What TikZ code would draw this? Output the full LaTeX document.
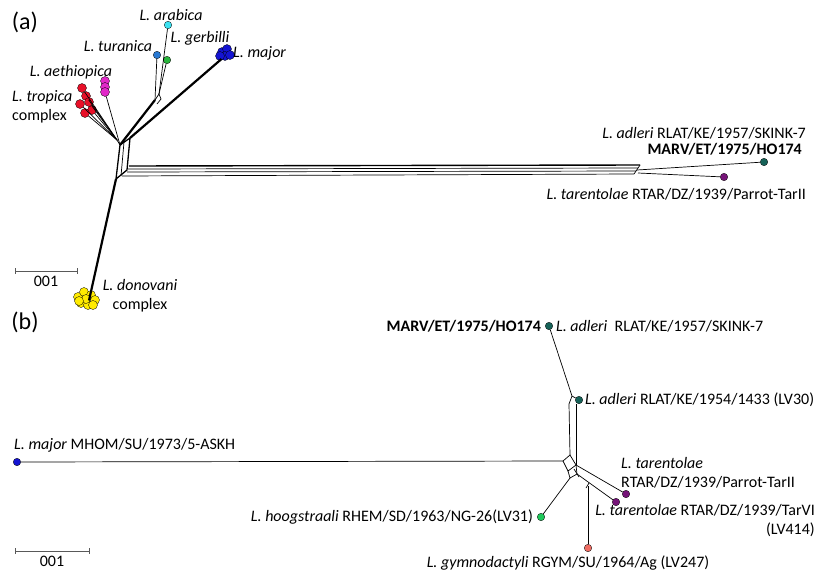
\documentclass[tikz,border=0pt]{standalone}
\usepackage{fontspec}
\setmainfont{Carlito}
\usetikzlibrary{positioning}
\definecolor{adlteal}{RGB}{22,98,88}
\definecolor{tarpurple}{RGB}{118,20,120}
\definecolor{majblue}{RGB}{20,20,210}
\definecolor{tropred}{RGB}{232,16,40}
\definecolor{aetmag}{RGB}{225,40,200}
\definecolor{aracyan}{RGB}{60,225,240}
\definecolor{turblue}{RGB}{40,120,210}
\definecolor{gergreen}{RGB}{40,180,60}
\definecolor{donyellow}{RGB}{255,235,0}
\definecolor{hoogreen}{RGB}{30,200,90}
\definecolor{gymsalmon}{RGB}{240,110,100}
\newcommand{\labfont}{\fontsize{16}{19}\selectfont}
\tikzset{
	tip/.style={circle, draw=black, line width=0.3pt, inner sep=0pt, minimum size=7.5pt},
	bigtip/.style={tip, minimum size=9pt},
	stem/.style={line width=2.2pt},
	edge/.style={line width=0.7pt},
	lab/.style={inner sep=1pt, font=\labfont},
	spec/.style={lab, font=\labfont\itshape},
	strain/.style={lab, font=\labfont\bfseries},
	panel/.style={inner sep=0pt, font=\fontsize{24}{26}\selectfont},
	scalebar/.style={line width=0.6pt, |-|}
}

\begin{document}
\begin{tikzpicture}[x=1pt, y=-1pt]
	\useasboundingbox (0,0) rectangle (814,573);
	
	% ---------------- panel (a) ----------------
	\node[panel] (pa) at (25,22) {(a)};
	
	% central reticulation
	\coordinate (ca) at (120,145);
	\coordinate (cb) at (130,138);
	\coordinate (cc) at (127,170);
	\coordinate (cd) at (116,179);
	\draw[stem, line width=1.3pt] (ca) -- (cb) -- (cc) -- (cd) -- cycle;
	\draw[edge] (124,142) -- (121,176);
	
	% tips
	\foreach \x/\y [count=\i] in {82/88, 86/96, 80/104, 92/110, 85/113, 89/102}
		\node[bigtip, fill=tropred] (trop\i) at (\x,\y) {};
	\foreach \y [count=\i] in {81, 87, 92}
		\node[bigtip, fill=aetmag] (aet\i) at (105,\y) {};
	\node[tip, fill=aracyan] (ara) at (168,25) {};
	\node[tip, fill=turblue] (tur) at (157,55) {};
	\node[tip, fill=gergreen] (ger) at (167,60) {};
	\foreach \x/\y [count=\i] in {222/52, 227/49, 225/56, 230/55, 220/56}
		\node[bigtip, fill=majblue] (maj\i) at (\x,\y) {};
	\foreach \x/\y [count=\i] in {78/297, 84/292, 91/295, 95/300, 81/303, 88/305, 93/305, 86/299, 79/301}
		\node[bigtip, fill=donyellow] (don\i) at (\x,\y) {};
	\node[tip, fill=adlteal] (adla) at (764,162) {};
	\node[tip, fill=tarpurple] (tara) at (724,177) {};
	
	% branches
	\coordinate (ce) at (117,140);
	\foreach \i in {1,...,6}
		\draw[edge] (trop\i) -- (ce);
	\draw[edge] (ce) -- (ca);
	\draw[edge] (aet3) -- (ca);
	\coordinate (tj) at (155,100);
	\coordinate (tk) at (159,94);
	\draw[stem] (ca) -- (tj);
	\draw[edge] (tj) -- (tk) -- (161,99) -- (157,104);
	\draw[edge] (tj) -- (tur);
	\draw[edge] (tk) -- (ara);
	\draw[edge] (tk) -- (ger);
	\draw[stem] (cb) -- (maj3);
	\draw[stem] (cd) -- (don6);
	
	% long split to adleri and tarentolae
	\coordinate (hs) at (637,170);
	\draw[stem, line width=1.4pt] (129,166) -- (640,165);
	\draw[edge] (128,169) -- (638,168);
	\draw[edge] (127,172) -- (636,171);
	\draw[edge] (122,176) -- (634,174);
	\draw[edge] (634,174) -- (640,165);
	\draw[edge] (hs) -- (adla);
	\draw[edge] (638,173) -- (tara);
	
	% labels
	\node[spec] (lara) at (171,15) {L. arabica};
	\node[spec] (lger) at (200,38) {L. gerbilli};
	\node[spec] (ltur) at (118,46) {L. turanica};
	\node[spec, anchor=west] (lmaj) at (232,53) {L. major};
	\node[spec] (laet) at (71,72) {L. aethiopica};
	\node[lab, align=left, anchor=west] (ltrop) at (11,107) {\textit{L. tropica}\\complex};
	\node[lab, align=center] (ldon) at (140,296) {\textit{L. donovani}\\complex};
	\node[lab, anchor=east] (ladla) at (807,133) {\textit{L. adleri} RLAT/KE/1957/SKINK-7};
	\node[strain, anchor=east] (lmarva) at (803,149) {MARV/ET/1975/HO174};
	\node[lab, anchor=east] (ltara) at (807,194) {\textit{L. tarentolae} RTAR/DZ/1939/Parrot-TarII};
	
	% scale bar
	\coordinate (sa1) at (15,271);
	\coordinate (sa2) at (78,271);
	\draw[scalebar, gray!70!black] (sa1) -- (sa2);
	\node[lab] (sca) at (46,281) {001};
	
	% ---------------- panel (b) ----------------
	\node[panel] (pb) at (25,322) {(b)};
	
	\node[tip, fill=adlteal] (adl1) at (549,326) {};
	\node[tip, fill=adlteal] (adl2) at (579,400) {};
	\node[tip, fill=majblue] (majb) at (17,462) {};
	\node[tip, fill=hoogreen] (hoo) at (541,517) {};
	\node[tip, fill=gymsalmon] (gym) at (588,548) {};
	\node[tip, fill=tarpurple] (tar1) at (626,494) {};
	\node[tip, fill=tarpurple] (tar2) at (616,502) {};
	
	% reticulation
	\coordinate (bj) at (572,396);
	\coordinate (bq1) at (563,461);
	\coordinate (bq2) at (570,455);
	\coordinate (bq3) at (576,465);
	\coordinate (bq4) at (568,471);
	\draw[edge] (adl1) -- (bj) -- (adl2);
	\draw[edge] (bj) -- (569,404) -- (bq2);
	\draw[edge] (576,404) -- (bq3);
	\draw[edge] (bq1) -- (bq2) -- (bq3) -- (bq4) -- cycle;
	\draw[edge] (bq1) -- (majb);
	\draw[edge] (bq4) -- (570,478) -- (577,474) -- (bq3);
	\draw[edge] (570,478) -- (hoo);
	\draw[edge] (bq3) -- (tar1);
	\draw[edge] (577,474) -- (tar2);
	\draw[edge] (574,469) -- (579,477);
	\draw[edge] (589,483) -- (586,488);
	\draw[edge] (588,486) -- (gym);
	
	% labels
	\node[strain, left=3pt of adl1] (lmarvb) {MARV/ET/1975/HO174};
	\node[lab, right=2pt of adl1] (ladl1) {\textit{L. adleri}\ \ RLAT/KE/1957/SKINK-7};
	\node[lab, right=1pt of adl2] (ladl2) {\textit{L. adleri} RLAT/KE/1954/1433 (LV30)};
	\node[lab, anchor=west] (lmajb) at (13,445) {\textit{L. major} MHOM/SU/1973/5-ASKH};
	\node[lab, left=3pt of hoo] (lhoo) {\textit{L. hoogstraali} RHEM/SD/1963/NG-26(LV31)};
	\node[lab] (lgym) at (568,563) {\textit{L. gymnodactyli} RGYM/SU/1964/Ag (LV247)};
	\node[lab, align=left, anchor=west] (ltar1) at (620,473) {\textit{L. tarentolae}\\RTAR/DZ/1939/Parrot-TarII};
	\node[lab, align=right, anchor=east] (ltar2) at (816,521) {\textit{L. tarentolae} RTAR/DZ/1939/TarVI\\(LV414)};
	
	% scale bar
	\coordinate (sb1) at (15,551);
	\coordinate (sb2) at (90,551);
	\draw[scalebar, gray!70!black] (sb1) -- (sb2);
	\node[lab] (scb) at (52,561) {001};
\end{tikzpicture}
\end{document}
